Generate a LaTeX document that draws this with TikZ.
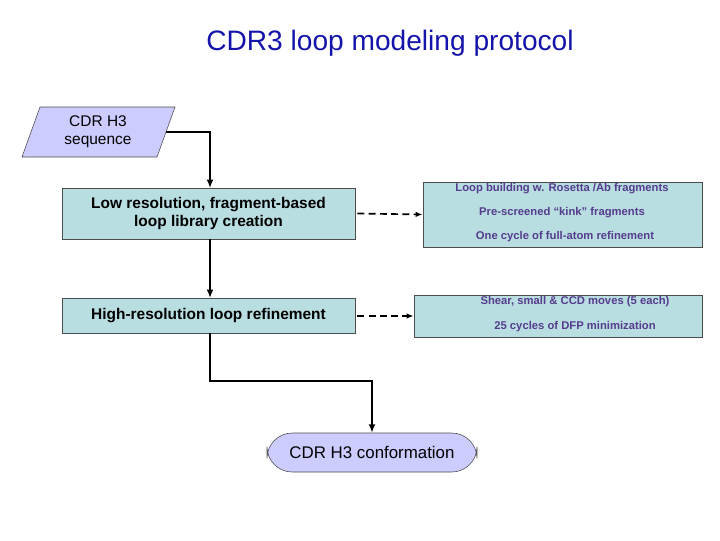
\documentclass[tikz,border=0pt]{standalone}
\usepackage{fontspec}
\setmainfont{Liberation Sans}
\usetikzlibrary{arrows.meta}
\definecolor{titleblue}{RGB}{20,20,170}
\definecolor{boxblue}{RGB}{185,222,226}
\definecolor{lav}{RGB}{204,204,255}
\definecolor{purp}{RGB}{85,60,140}
\begin{document}
\begin{tikzpicture}[x=0.025cm,y=-0.025cm,
  box/.style={draw=black!70,fill=boxblue,line width=0.6pt},
  conn/.style={line width=1.6pt,-{Latex[length=6pt,width=5pt]}},
  dconn/.style={line width=1.2pt,dash pattern=on 5pt off 3pt,-{Latex[length=5pt,width=4pt]}},
  lt/.style={font=\bfseries\fontsize{11}{13}\selectfont,align=center},
  rt/.style={font=\bfseries\fontsize{8}{10}\selectfont,text=purp}]
\useasboundingbox (0,0) rectangle (720,540);
\node[font=\fontsize{20}{24}\selectfont,text=titleblue] (title) at (390,43) {CDR3 loop modeling protocol};
\draw[fill=lav,draw=black!70] (22,157) -- (40,107) -- (175,107) -- (157,157) -- cycle;
\node[font=\fontsize{11}{13}\selectfont,align=center] (seq) at (98,132) {CDR H3\\sequence};
\coordinate (seqR) at (166,132);
\node[box,minimum width=293*0.025cm,minimum height=51*0.025cm,lt] (b1) at (208.5,213.5) {Low resolution, fragment-based\\loop library creation};
\node[box,minimum width=293*0.025cm,minimum height=35*0.025cm,lt] (b2) at (208.5,316) {High-resolution loop refinement};
\node[box,minimum width=279*0.025cm,minimum height=65*0.025cm] (r1) at (562.5,214.5) {};
\node[rt] (r1a) at (562,189) {Loop building w. Rosetta /Ab fragments};
\node[rt] (r1b) at (562,213) {Pre-screened “kink” fragments};
\node[rt] (r1c) at (565,237) {One cycle of full-atom refinement};
\node[box,minimum width=288*0.025cm,minimum height=42*0.025cm] (r2) at (558,316) {};
\node[rt] (r2a) at (575,302) {Shear, small \& CCD moves (5 each)};
\node[rt] (r2b) at (575,327) {25 cycles of DFP minimization};
\node[draw=black!70,fill=lav,rounded corners=18pt,minimum width=210*0.025cm,minimum height=39*0.025cm,font=\fontsize{12}{14}\selectfont] (out) at (372,452.5) {CDR H3 conformation};
\draw[conn] (seqR) -- (210,132) -- (210,188);
\draw[conn] (210,239) -- (210,298);
\draw[conn] (210,333) -- (210,381) -- (372,381) -- (out.north);
\draw[dconn] (b1.east) ++(2,0) -- (r1.west);
\draw[dconn] (b2.east) ++(2,0) -- (r2.west);
\end{tikzpicture}
\end{document}
